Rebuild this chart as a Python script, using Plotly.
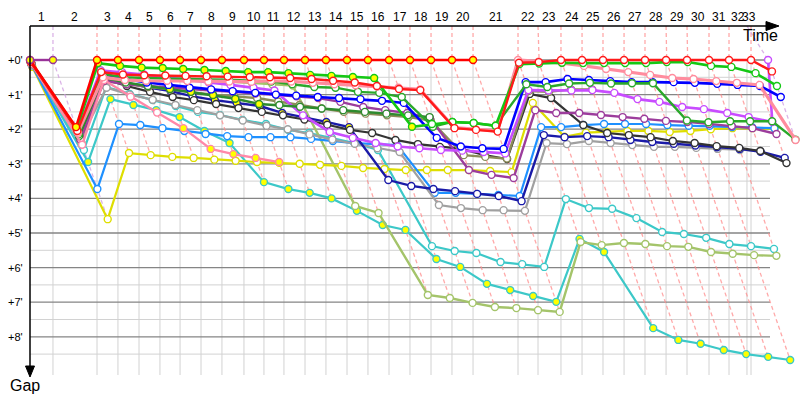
import plotly.graph_objects as go

# ---- data (time in minutes, gap in minutes) ----
LAP_T = [0.00, 1.93, 5.63, 7.39, 9.16, 10.92, 12.61, 14.37, 16.13, 17.98, 19.66, 21.34, 23.11,
         24.87, 26.64, 28.40, 30.17, 31.93, 33.70, 35.46, 37.23, 41.01, 42.69, 44.62, 46.39,
         48.15, 49.92, 51.68, 53.45, 55.21, 57.06, 58.74, 60.59, 62.02]
GRID_T = [0.00, 1.93, 5.63, 7.39, 9.16, 10.92, 12.61, 14.37, 16.13, 17.98, 19.66, 21.34, 23.11,
          24.87, 26.64, 28.40, 30.17, 31.93, 33.70, 35.46, 37.23, 41.01, 42.69, 44.62, 46.39,
          48.15, 49.92, 51.68, 53.45, 55.21, 57.06, 58.74, 60.25, 60.59]
LAP_LABELS = [str(i) for i in range(1, 34)]
GAP_TICKS = [0, 1, 2, 3, 4, 5, 6, 7, 8]
GAP_LABELS = ["+0'", "+1'", "+2'", "+3'", "+4'", "+5'", "+6'", "+7'", "+8'"]

cyan1 = [0.1, 2.95, 1.13, 1.3, 1.45, 1.65, 2.05, 2.4, 3.53, 3.73, 3.84, 4.0, 4.36, 4.77, 4.91, 5.75,
         5.98, 6.47, 6.65, 6.82, 6.99, 5.17, 5.55, 7.75, 8.09, 8.2, 8.38, 8.5, 8.58, 8.67]
cyan2 = [0.1, 2.6, 0.78, 0.98, 1.16, 1.33, 1.5, 1.59, 1.73, 1.85, 2.02, 2.11, 2.25, 2.4, 2.6, 5.38,
         5.52, 5.58, 5.84, 5.9, 5.98, 4.02, 4.28, 4.3, 4.57, 4.97, 5.03, 5.14, 5.32, 5.38, 5.46]
olive = [0.1, 2.4, 0.3, 0.4, 0.45, 0.5, 0.55, 0.58, 0.62, 0.66, 0.7, 0.74, 4.22, 4.42, 6.79, 6.88,
         7.02, 7.14, 7.17, 7.23, 7.28, 5.26, 5.35, 5.29, 5.32, 5.38, 5.4, 5.55, 5.6, 5.64, 5.66]
yellow = [0.2, 4.6, 2.69, 2.75, 2.8, 2.83, 2.88, 2.91, 2.95, 2.97, 3.0, 3.03, 3.06, 3.12, 3.15, 3.18,
          3.18, 3.18, 3.18, 3.21, 3.24, 1.24, 2.22, 2.1, 2.07, 2.05, 2.05, 2.08, 2.05, 2.0, 1.97, 1.97, 1.99]
lightblue = [0.15, 3.73, 1.85, 1.88, 1.97, 2.05, 2.14, 2.2, 2.23, 2.23, 2.23, 2.28, 2.34, 2.4, 2.43,
             2.46, 3.84, 3.84, 3.87, 3.9, 3.93, 1.94, 1.94, 1.88, 1.85, 1.85, 1.85, 1.88, 1.9, 1.9,
             1.94, 1.94, 1.97]
gray = [0.15, 2.3, 0.8, 1.0, 1.15, 1.3, 1.45, 1.6, 1.75, 1.9, 2.0, 2.15, 2.3, 2.42, 2.55, 2.66, 4.19,
        4.28, 4.34, 4.34, 4.36, 2.4, 2.43, 2.34, 2.4, 2.46, 2.51, 2.51, 2.54, 2.57, 2.6, 2.62]
navy = [0.1, 2.2, 0.5, 0.65, 0.8, 0.9, 1.05, 1.16, 1.24, 1.33, 1.53, 1.65, 1.79, 1.94, 3.47, 3.64,
        3.73, 3.79, 3.87, 3.93, 4.08, 2.17, 2.23, 2.2, 2.23, 2.31, 2.37, 2.42, 2.47, 2.52, 2.57, 2.65, 2.83]
black = [0.1, 2.25, 0.55, 0.75, 0.92, 1.07, 1.16, 1.27, 1.39, 1.5, 1.6, 1.72, 1.87, 2.02, 2.11, 2.31,
         2.43, 2.51, 2.57, 2.75, 2.86, 0.98, 1.1, 1.88, 2.11, 2.17, 2.23, 2.34, 2.4, 2.49, 2.54, 2.63, 2.98]
khaki = [0.1, 2.3, 0.6, 0.7, 0.78, 0.85, 0.92, 1.0, 1.05, 1.1, 1.2, 1.3, 1.4, 1.5, 1.55, 1.6, 1.65,
         1.75, 2.75, 2.8, 2.85, 0.9, 0.92, 0.85, 0.85]
purple = [0.1, 2.3, 0.6, 0.7, 0.75, 0.8, 0.85, 0.88, 0.92, 0.97, 1.0, 1.05, 1.1, 1.21, 1.36, 1.45,
          1.53, 1.68, 3.18, 3.32, 3.41, 1.45, 1.53, 1.53, 1.59, 1.65, 1.7, 1.76, 1.79, 1.85, 1.91, 1.97, 2.14]
violet = [0.05, 2.05, 0.3, 0.35, 0.42, 0.5, 0.58, 0.65, 0.72, 0.8, 0.88, 1.6, 2.08, 2.25, 2.4, 2.5,
          2.55, 2.6, 2.62, 2.66, 2.7, 0.87, 0.88, 0.88, 0.87, 0.95, 1.13, 1.21, 1.36, 1.42, 1.53, 1.65, 1.79, 0]
green3 = [0.1, 2.2, 0.5, 0.65, 0.75, 0.84, 0.92, 1.01, 1.12, 1.27, 1.3, 1.35, 1.4, 1.45, 1.5, 1.55, 1.6, 1.65]
blue = [0.05, 2.1, 0.4, 0.55, 0.65, 0.72, 0.8, 0.85, 0.9, 0.95, 1.0, 1.03, 1.07, 1.1, 1.13, 1.18, 1.24,
        2.25, 2.5, 2.55, 2.57, 0.64, 0.64, 0.55, 0.58, 0.61, 0.64, 0.64, 0.64, 0.66, 0.69, 0.72, 0.75, 1.07]
green2 = [0.08, 2.15, 0.4, 0.5, 0.52, 0.54, 0.55, 0.56, 0.57, 0.6, 0.62, 0.7, 0.78, 0.8, 0.92, 0.95,
          1.07, 1.93, 1.79, 1.82, 1.9, 0.7, 0.78, 0.68, 0.66, 0.68, 0.67, 0.67, 1.75, 1.8, 1.77, 1.77, 1.77, 2.3]
pink2 = [0.1, 2.45, 0.58, 1.06, 1.52, 1.97, 2.57, 2.72, 2.83, 2.95]
pink = [0.05, 2.1, 0.5, 0.58, 0.6, 0.6, 0.61, 0.62, 0.62, 0.63, 0.6, 0.62, 0.66, 0.7, 0.73, 0.77, 0.8,
        0.85, 1.95, 2.0, 2.05, 0, 0.05, 0.09, 0.17, 0.26, 0.35, 0.43, 0.52, 0.55, 0.61, 0.66, 0.72, 2.31]
green1 = [0.03, 2.0, 0.09, 0.17, 0.22, 0.23, 0.26, 0.29, 0.32, 0.35, 0.35, 0.38, 0.43, 0.46, 0.49, 0.52,
          1.93, 1.85, 1.79, 1.82, 1.9, 0.12, 0.1, 0.08, 0.09, 0.09, 0.09, 0.09, 0.06, 0.06, 0.17, 0.2, 0.38, 0.75]
red2 = [0.05, 2.05, 0.35, 0.42, 0.44, 0.45, 0.46, 0.47, 0.48, 0.49, 0.5, 0.52, 0.55, 0.6, 0.65, 0.75,
        0.84, 0.87, 1.97, 2.02, 2.07, 0.08, 0.06, 0, 0, 0, 0, 0, 0, 0, 0, 0, 0, 0.33]
red1 = [0, 1.94, 0, 0, 0, 0, 0, 0, 0, 0, 0, 0, 0, 0, 0, 0, 0, 0, 0, 0, 0]
purple0 = [0, 0]

# laps drawn with a yellow marker fill
best_laps = {
    "cyan1": list(range(1, 30)),
    "navy": [7, 8, 9, 10, 11, 12, 13],
    "green3": [5, 6, 7, 8, 9],
    "pink2": [5, 6, 7, 8, 9],
    "green1": list(range(1, 17)),
    "red1": list(range(1, 21)),
    "purple0": [0, 1],
}

series = [
    ("cyan1", cyan1, "#3cc8c8", 2.2),
    ("cyan2", cyan2, "#3cc8c8", 2.2),
    ("olive", olive, "#a4c46a", 2.4),
    ("yellow", yellow, "#dede00", 2.2),
    ("lightblue", lightblue, "#1e90ff", 2.2),
    ("gray", gray, "#a0a0a0", 2.2),
    ("navy", navy, "#1a1aa8", 2.4),
    ("black", black, "#333333", 2.2),
    ("khaki", khaki, "#8c8c58", 2.4),
    ("purple", purple, "#9c3c9c", 2.4),
    ("violet", violet, "#c84cff", 2.6),
    ("green3", green3, "#2e8b2e", 2.4),
    ("blue", blue, "#0000ff", 2.6),
    ("green2", green2, "#2aa82a", 2.4),
    ("pink2", pink2, "#ff88a8", 2.4),
    ("pink", pink, "#ff8c9e", 3.2),
    ("green1", green1, "#14c814", 2.6),
    ("red2", red2, "#ff1a1a", 2.4),
    ("red1", red1, "#ff0000", 2.6),
    ("purple0", purple0, "#993399", 2.4),
]

PX_X = 11.9   # px per minute horizontally
PX_Y = 34.6   # px per minute vertically


def tx(px):
    return (px - 30) / PX_X


def gy(px):
    return (px - 60) / PX_Y


fig = go.Figure()

# grid
x_end = tx(770)
g_bot = gy(375)
hx, hy = [], []
for v in [0.5 + i for i in range(9)]:
    hx += [0, x_end, None]
    hy += [v, v, None]
vx, vy = [], []
for t in GRID_T[1:]:
    vx += [t, t, None]
    vy += [0, g_bot, None]
fig.add_trace(go.Scatter(x=hx + vx, y=hy + vy, mode="lines",
                         line=dict(color="#d2d2d2", width=1), hoverinfo="skip"))
mx, my = [], []
for v in GAP_TICKS:
    mx += [0, x_end, None]
    my += [v, v, None]
fig.add_trace(go.Scatter(x=mx, y=my, mode="lines",
                         line=dict(color="#858585", width=1.3), hoverinfo="skip"))

# lap lines (connect same-lap points of every car)
top_g = gy(26)
last_lap = len(LAP_T) - 1
lap_lines = {"pink": ([], []), "purple": ([], [])}
for lap in range(1, len(LAP_T)):
    pts = []
    for name, gaps, col, w in series:
        if lap < len(gaps):
            pts.append((gaps[lap], LAP_T[lap] + gaps[lap]))
    pts.sort()
    key = "purple" if lap in (1, last_lap) else "pink"
    head_x = GRID_T[lap - 1] if lap == last_lap else LAP_T[lap]
    xs, ys = lap_lines[key]
    xs += [head_x] + [p[1] for p in pts] + [None]
    ys += [top_g] + [p[0] for p in pts] + [None]
for key, colr in (("pink", "rgba(255,140,140,0.75)"), ("purple", "rgba(210,160,225,0.8)")):
    xs, ys = lap_lines[key]
    fig.add_trace(go.Scatter(x=xs, y=ys, mode="lines",
                             line=dict(color=colr, width=1.3, dash="4px,3px"), hoverinfo="skip"))

# cars
for name, gaps, col, w in series:
    xs = [LAP_T[i] + g for i, g in enumerate(gaps)]
    fills = ["#ffff00" if i in best_laps.get(name, []) else "#ffffff" for i in range(len(gaps))]
    fig.add_trace(go.Scatter(x=xs, y=gaps, mode="lines+markers", name=name,
                             line=dict(color=col, width=w),
                             marker=dict(size=7, color=fills, line=dict(color=col, width=1.4)),
                             cliponaxis=False))

# axes drawn as shapes
fig.add_shape(type="line", x0=0, x1=tx(768), y0=top_g, y1=top_g, line=dict(color="black", width=1.5))
fig.add_shape(type="path", path=f"M {tx(766)},{gy(21.5)} L {tx(779)},{top_g} L {tx(766)},{gy(30.5)} Z",
              fillcolor="black", line=dict(color="black", width=1))
fig.add_shape(type="line", x0=0, x1=0, y0=top_g, y1=gy(368), line=dict(color="black", width=1.5))
fig.add_shape(type="path", path=f"M {tx(25.5)},{gy(366)} L 0,{gy(377)} L {tx(34.5)},{gy(366)} Z",
              fillcolor="black", line=dict(color="black", width=1))

# tick labels
for i, lab in enumerate(LAP_LABELS):
    xm = (GRID_T[i] + GRID_T[i + 1]) / 2
    fig.add_annotation(x=xm, y=gy(17), text=lab, showarrow=False,
                       font=dict(size=12, color="black", family="Liberation Sans"))
for v, lab in zip(GAP_TICKS, GAP_LABELS):
    fig.add_annotation(x=tx(25), y=v, text=lab, showarrow=False, xanchor="right",
                       font=dict(size=11, color="black", family="Liberation Sans"))
fig.add_annotation(x=tx(760), y=gy(35), text="Time", showarrow=False,
                   font=dict(size=16, color="black", family="Liberation Sans"))
fig.add_annotation(x=tx(25), y=gy(385), text="Gap", showarrow=False,
                   font=dict(size=16, color="black", family="Liberation Sans"))

fig.update_layout(
    width=800, height=400, margin=dict(l=0, r=0, t=0, b=0),
    paper_bgcolor="white", plot_bgcolor="white", showlegend=False,
    xaxis=dict(range=[tx(0), tx(800)], visible=False),
    yaxis=dict(range=[gy(400), gy(0)], visible=False),
)
fig.write_html("out.html", config={"displayModeBar": False},
               post_script="document.body.style.margin='0px';document.body.style.padding='0px';")
